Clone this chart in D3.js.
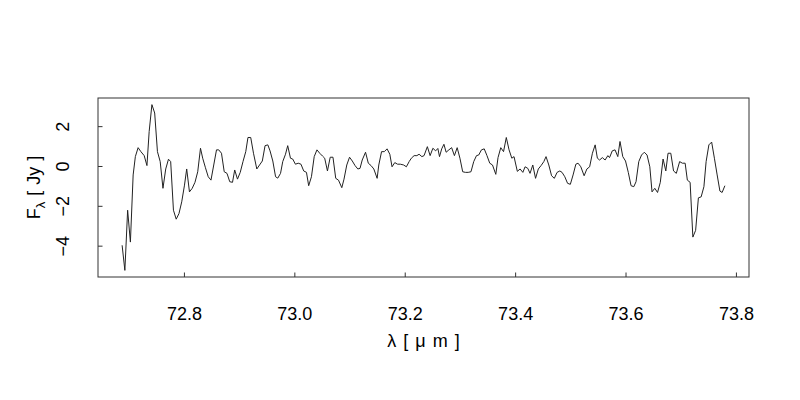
<!DOCTYPE html>
<html>
<head>
<meta charset="utf-8">
<script src="https://cdn.jsdelivr.net/npm/d3@7"></script>
<style>
  body { margin: 0; background: #fff; }
  svg text { font-family: "Liberation Sans", Arial, sans-serif; fill: #000; }
</style>
</head>
<body>
<div id="chart"></div>
<script>
// wavelength (micron) and flux (Jy)
const wavelength = [
  72.688, 72.693, 72.698, 72.703, 72.708, 72.712, 72.717, 72.722, 72.728, 72.733,
  72.737, 72.742, 72.747, 72.752, 72.757, 72.762, 72.767, 72.772, 72.776, 72.781,
  72.786, 72.791, 72.796, 72.801, 72.805, 72.810, 72.815, 72.820, 72.825, 72.830,
  72.834, 72.839, 72.844, 72.849, 72.854, 72.859, 72.863, 72.868, 72.873, 72.878,
  72.883, 72.888, 72.892, 72.897, 72.902, 72.907, 72.912, 72.916, 72.921, 72.926,
  72.932, 72.937, 72.942, 72.947, 72.952, 72.956, 72.961, 72.966, 72.970, 72.975,
  72.979, 72.984, 72.988, 72.993, 72.997, 73.002, 73.007, 73.012, 73.017, 73.022,
  73.026, 73.031, 73.036, 73.041, 73.046, 73.051, 73.055, 73.060, 73.065, 73.070,
  73.075, 73.080, 73.086, 73.090, 73.095, 73.100, 73.105, 73.110, 73.115, 73.119,
  73.123, 73.129, 73.134, 73.139, 73.144, 73.150, 73.153, 73.158, 73.163, 73.168,
  73.173, 73.177, 73.182, 73.187, 73.192, 73.198, 73.203, 73.208, 73.212, 73.217,
  73.222, 73.226, 73.231, 73.235, 73.241, 73.246, 73.251, 73.256, 73.260, 73.263,
  73.267, 73.271, 73.275, 73.280, 73.285, 73.290, 73.295, 73.300, 73.305, 73.310,
  73.315, 73.320, 73.325, 73.330, 73.334, 73.339, 73.344, 73.349, 73.354, 73.359,
  73.365, 73.369, 73.374, 73.379, 73.384, 73.389, 73.394, 73.398, 73.404, 73.409,
  73.414, 73.418, 73.423, 73.427, 73.432, 73.437, 73.442, 73.447, 73.452, 73.456,
  73.461, 73.466, 73.471, 73.476, 73.481, 73.485, 73.490, 73.495, 73.500, 73.505,
  73.510, 73.514, 73.519, 73.525, 73.530, 73.535, 73.540, 73.545, 73.549, 73.553,
  73.558, 73.563, 73.568, 73.571, 73.576, 73.581, 73.586, 73.590, 73.595, 73.600,
  73.605, 73.610, 73.615, 73.619, 73.624, 73.629, 73.634, 73.639, 73.644, 73.648,
  73.653, 73.658, 73.663, 73.668, 73.673, 73.677, 73.682, 73.687, 73.692, 73.698,
  73.703, 73.708, 73.712, 73.717, 73.722, 73.727, 73.732, 73.737, 73.742, 73.746,
  73.751, 73.756, 73.761, 73.766, 73.771, 73.775, 73.780
];
const flux = [
  -3.98, -5.24, -2.22, -3.82, -0.45, 0.47, 0.92, 0.72, 0.52, 0.02,
  1.73, 3.08, 2.66, 0.72, 0.22, -1.12, -0.15, 0.34, 0.22, -2.22,
  -2.67, -2.39, -1.80, -0.96, -0.15, -1.30, -1.12, -0.82, -0.29, 0.89,
  0.39, -0.09, -0.54, -0.71, 0.05, 0.81, 0.81, 0.64, -0.29, -0.37,
  -0.79, -0.82, -0.20, -0.66, -0.32, 0.22, 0.72, 1.43, 1.43, 0.64,
  -0.15, 0.05, 0.25, 1.02, 1.06, 0.76, 0.25, -0.54, -0.61, -0.37,
  0.22, 0.59, 1.02, 0.39, 0.35, 0.09, 0.14, 0.09, -0.25, -0.32,
  -0.99, -0.54, 0.47, 0.81, 0.64, 0.50, 0.39, -0.25, 0.44, 0.44,
  -0.62, -0.71, -1.09, -0.66, 0.05, 0.44, 0.25, 0.02, -0.15, -0.12,
  0.30, 0.69, 0.14, 0.02, -0.15, -0.62, 0.05, 0.72, 0.72, 0.86,
  0.59, -0.04, 0.17, 0.09, 0.09, 0.05, -0.04, 0.22, 0.39, 0.52,
  0.52, 0.59, 0.47, 0.52, 0.97, 0.52, 0.89, 0.76, 0.88, 0.47,
  0.86, 1.09, 0.69, 0.81, 0.92, 0.52, 0.92, 0.39, -0.29, -0.32,
  -0.32, -0.29, 0.22, 0.52, 0.55, 0.81, 0.86, 0.52, 0.14, 0.05,
  -0.42, 0.42, 0.92, 0.72, 1.43, 0.81, 0.39, 0.47, -0.27, -0.15,
  -0.32, -0.04, -0.12, -0.37, 0.05, -0.62, -0.15, 0.02, 0.22, 0.47,
  0.05, -0.49, -0.62, -0.32, -0.25, -0.32, -0.54, -0.87, -0.92, -0.45,
  0.09, 0.14, -0.04, -0.49, -0.15, -0.04, 0.64, 1.06, 0.39, 0.30,
  0.42, 0.30, 0.52, 0.42, 0.76, 0.81, 0.47, 1.23, 0.47, 0.25,
  -0.32, -0.99, -1.04, -0.79, 0.22, 0.55, 0.69, 0.55, -0.04, -1.30,
  -1.12, -1.33, -0.82, 0.35, -0.25, 0.64, 0.64, -0.25, -0.37, 0.22,
  0.14, 0.14, -0.71, -0.82, -3.57, -3.23, -1.60, -1.55, -1.04, 0.22,
  1.06, 1.20, 0.39, -0.45, -1.26, -1.33, -0.99
];
const xTicks = [72.8, 73.0, 73.2, 73.4, 73.6, 73.8];
const yTicks = [-4, -2, 0, 2];

const data = wavelength.map((w, i) => ({ w: w, f: flux[i] }));

const width = 800, height = 400;
const margin = { top: 98, right: 51, bottom: 123, left: 98 };
const innerW = width - margin.left - margin.right;
const innerH = height - margin.top - margin.bottom;

// R style 4% padding around the data range
const pad = (ext) => {
  const d = (ext[1] - ext[0]) * 0.04;
  return [ext[0] - d, ext[1] + d];
};

const x = d3.scaleLinear()
  .domain(pad(d3.extent(wavelength)))
  .range([0, innerW]);

const y = d3.scaleLinear()
  .domain(pad(d3.extent(flux)))
  .range([innerH, 0]);

const svg = d3.select("#chart")
  .append("svg")
  .attr("width", width)
  .attr("height", height);

const g = svg.append("g")
  .attr("transform", `translate(${margin.left},${margin.top})`);

// the spectrum
const line = d3.line()
  .x((d) => x(d.w))
  .y((d) => y(d.f));

g.append("path")
  .datum(data)
  .attr("fill", "none")
  .attr("stroke", "#222")
  .attr("stroke-width", 1)
  .attr("stroke-linejoin", "round")
  .attr("d", line);

// axes with ticks pointing inward
const xAxis = g.append("g")
  .attr("transform", `translate(0,${innerH})`)
  .call(d3.axisBottom(x).tickValues(xTicks).tickSizeInner(-4.5).tickSizeOuter(0)
    .tickFormat(d3.format(".1f")));

const yAxis = g.append("g")
  .call(d3.axisLeft(y).tickValues(yTicks).tickSizeInner(-4.5).tickSizeOuter(0)
    .tickFormat(d3.format("d")));

[xAxis, yAxis].forEach((a) => {
  a.select(".domain").remove();
  a.selectAll("line").attr("stroke", "#333");
});

xAxis.selectAll("text")
  .attr("y", 0)
  .attr("dy", null)
  .attr("transform", "translate(0,43)")
  .style("font-size", "18px");

yAxis.selectAll("text")
  .attr("x", null)
  .attr("dy", null)
  .attr("text-anchor", "middle")
  .attr("transform", "translate(-29,0) rotate(-90)")
  .style("font-size", "18px");

// box around the plot
g.append("rect")
  .attr("width", innerW)
  .attr("height", innerH)
  .attr("fill", "none")
  .attr("stroke", "#333")
  .attr("stroke-width", 1);

// axis titles
svg.append("text")
  .attr("x", margin.left + innerW / 2)
  .attr("y", 347)
  .attr("text-anchor", "middle")
  .style("font-size", "18px")
  .style("word-spacing", "2px")
  .text("λ [ μ m ]");

const yt = svg.append("text")
  .attr("transform", `translate(40,${margin.top + innerH / 2}) rotate(-90)`)
  .attr("text-anchor", "middle")
  .style("font-size", "18px")
  .style("word-spacing", "1px");
yt.append("tspan").text("F");
yt.append("tspan").attr("dy", 5).style("font-size", "13px").text("λ");
yt.append("tspan").attr("dy", -5).text(" [ Jy ]");
</script>
</body>
</html>
